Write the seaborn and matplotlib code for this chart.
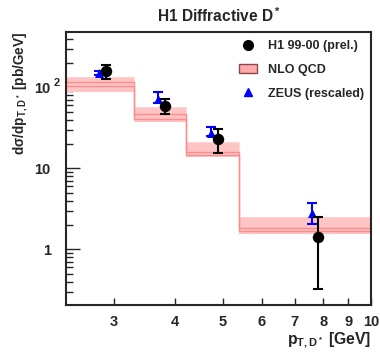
import numpy as np
import pandas as pd
import seaborn as sns
import matplotlib
matplotlib.use("Agg")
import matplotlib.pyplot as plt
from matplotlib.lines import Line2D
from matplotlib.patches import Patch
from matplotlib.ticker import FixedLocator, FixedFormatter, NullFormatter, NullLocator

# NLO QCD band (bin edges in GeV, values in pb/GeV)
bin_edges = [2.0, 3.3, 4.2, 5.4, 10.0]
nlo_hi = [133, 57.5, 20.9, 2.52]
nlo_lo = [88, 37, 13.7, 1.55]
nlo_c1 = [115, 46.4, 16.0, 1.82]
nlo_c2 = [105, 40.6, 14.7, 1.68]

# H1 99-00 (prel.)
h1_pt = [2.90, 3.82, 4.89, 7.80]
h1_xs = [159, 59.3, 23.0, 1.43]
h1_up = [188, 71.7, 30.6, 2.52]
h1_dn = [126.6, 46.4, 15.3, 0.324]

# ZEUS (rescaled)
zeus_pt = [2.80, 3.69, 4.73, 7.58]
zeus_xs = [151, 71.7, 27.0, 2.79]
zeus_up = [160, 86.7, 32.6, 3.74]
zeus_dn = [143, 64.0, 25.0, 2.03]

x_ticks = [3, 4, 5, 6, 7, 8, 9, 10]
y_ticks = [1, 10, 100]
y_ticklabels = ["1", "10", "10"]

sns.set_style("ticks")
plt.rcParams["font.family"] = ["Liberation Sans", "DejaVu Sans"]
plt.rcParams["font.weight"] = "bold"
plt.rcParams["mathtext.fontset"] = "custom"
plt.rcParams["mathtext.rm"] = "Liberation Sans:bold"
plt.rcParams["mathtext.it"] = "Liberation Sans:bold"
plt.rcParams["mathtext.bf"] = "Liberation Sans:bold"

fig = plt.figure(figsize=(3.8, 3.58), dpi=100)
ax = fig.add_axes([0.1737, 0.148, 0.8023, 0.764])

# band
ax.fill_between(bin_edges, nlo_lo + [nlo_lo[-1]], nlo_hi + [nlo_hi[-1]],
                step="post", color="#ffc4c4", lw=0, zorder=1)
ax.stairs(nlo_c1, bin_edges, color="#ff8c8c", lw=1.0, zorder=2)
ax.stairs(nlo_c2, bin_edges, color="#ff8c8c", lw=1.0, baseline=None, zorder=2)
ax.stairs(nlo_hi, bin_edges, color="#ffd4d4", lw=0.6, baseline=None, zorder=1)

h1 = pd.DataFrame({"pt": h1_pt, "xs": h1_xs, "up": h1_up, "dn": h1_dn})
zeus = pd.DataFrame({"pt": zeus_pt, "xs": zeus_xs, "up": zeus_up, "dn": zeus_dn})

ax.errorbar(zeus["pt"], zeus["xs"],
            yerr=[zeus["xs"] - zeus["dn"], zeus["up"] - zeus["xs"]],
            fmt="none", ecolor="blue", elinewidth=1.5, capsize=3.3, capthick=1.5, zorder=3)
sns.scatterplot(data=zeus, x="pt", y="xs", marker="^", color="blue", s=42,
                edgecolor="blue", linewidth=0, ax=ax, zorder=4)
ax.errorbar(h1["pt"], h1["xs"],
            yerr=[h1["xs"] - h1["dn"], h1["up"] - h1["xs"]],
            fmt="none", ecolor="black", elinewidth=1.5, capsize=3.3, capthick=1.5, zorder=5)
sns.scatterplot(data=h1, x="pt", y="xs", marker="o", color="black", s=68,
                edgecolor="black", linewidth=0, ax=ax, zorder=6)

ax.set_xscale("log")
ax.set_yscale("log")
ax.set_xlim(2.4, 10)
ax.set_ylim(0.205, 490)

ax.xaxis.set_major_locator(FixedLocator(x_ticks))
ax.xaxis.set_major_formatter(FixedFormatter([str(t) for t in x_ticks]))
ax.xaxis.set_minor_locator(NullLocator())
ax.yaxis.set_major_locator(FixedLocator(y_ticks))
ax.yaxis.set_major_formatter(FixedFormatter(y_ticklabels))
ax.yaxis.set_minor_formatter(NullFormatter())

ax.tick_params(axis="x", which="major", direction="in", length=5, width=1,
               labelsize=10.5, pad=7)
ax.tick_params(axis="y", which="major", direction="in", length=10, width=1,
               labelsize=10.5, pad=11)
ax.tick_params(axis="y", which="minor", direction="in", length=5, width=1)
for lab in ax.get_xticklabels() + ax.get_yticklabels():
    lab.set_fontweight("bold")
for s in ax.spines.values():
    s.set_linewidth(1.5)

# exponent of the 10^2 label, ROOT style
ax.annotate("2", xy=(0, y_ticks[-1]), xycoords=("axes fraction", "data"),
            xytext=(-9, 3), textcoords="offset points", fontsize=8,
            fontweight="bold", ha="left", va="center")

ax.set_title("H1 Diffractive D$^*$", fontsize=11.2, fontweight="bold", pad=7)
ax.set_xlabel("p$_{T,D^*}$ [GeV]", fontsize=11.3, fontweight="bold", loc="right", labelpad=1)
ax.set_ylabel("d$\\sigma$/dp$_{T,D^*}$ [pb/GeV]", fontsize=9.8, fontweight="bold",
              loc="top", labelpad=3)

handles = [
    Line2D([], [], marker="o", color="black", ls="none", markersize=7),
    Patch(facecolor="#ffaaaa", edgecolor="#8a4a4a", lw=1),
    Line2D([], [], marker="^", color="blue", ls="none", markersize=6),
]
labels = ["H1 99-00 (prel.)", "NLO QCD", "ZEUS (rescaled)"]
ax.legend(handles, labels, loc="upper right", frameon=False,
          prop={"size": 9, "weight": "bold"}, handlelength=1.4, labelspacing=0.95,
          handletextpad=0.9, bbox_to_anchor=(1.015, 1.01))

fig.savefig("out.png", dpi=100)
